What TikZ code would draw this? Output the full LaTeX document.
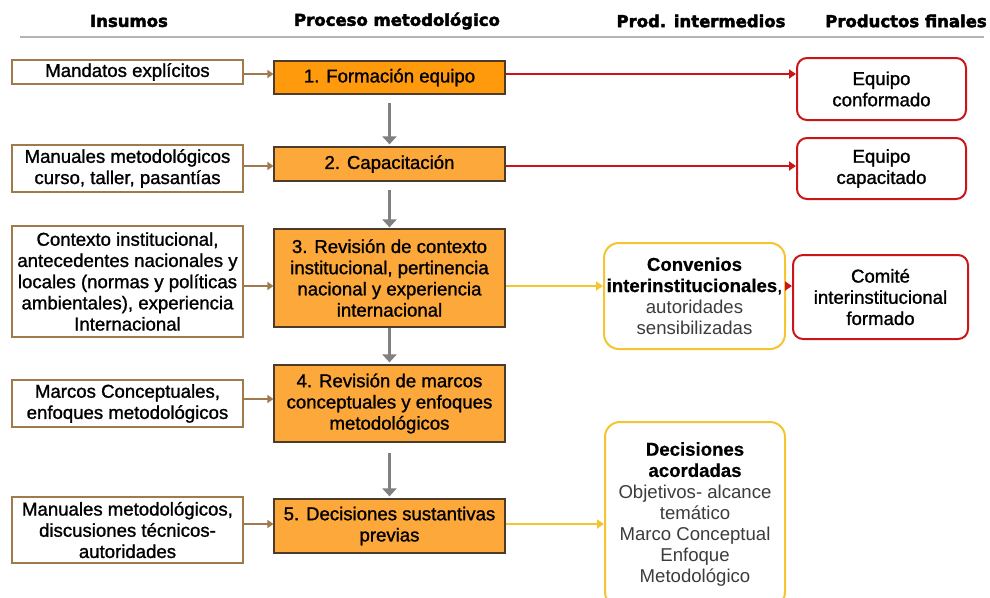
\documentclass[tikz,border=0pt]{standalone}
\usepackage{fontspec}
\setmainfont{Liberation Sans}[FakeBold=1.2, BoldFont={Liberation Sans Bold}, BoldFeatures={FakeBold=0.6}]
\newfontfamily\lightfont{Liberation Sans}
\newfontfamily\hdrfont{DejaVu Sans Bold}[FakeBold=2.6]
\usetikzlibrary{arrows.meta}
\definecolor{brn}{HTML}{9E7A4C}
\definecolor{obord}{HTML}{4D3B2A}
\definecolor{or1}{HTML}{FF9A0D}
\definecolor{or2}{HTML}{FDA83A}
\definecolor{redc}{HTML}{CC1518}
\definecolor{yel}{HTML}{F5C531}
\definecolor{gry}{HTML}{808080}
\definecolor{hline}{HTML}{B4B4B4}
\definecolor{lt}{HTML}{3C3C3C}
\newcommand{\lighttxt}[1]{{\lightfont\color{lt}#1}}
\tikzset{
  txt/.style={font=\fontsize{18.6}{21.2}\selectfont, align=center, inner sep=0pt},
  hdr/.style={font=\hdrfont\fontsize{16.5}{19}\selectfont, inner sep=0pt},
  lbox/.style={txt, draw=brn, line width=2pt, fill=white, minimum width=231pt},
  obox/.style={txt, draw=obord, line width=1.2pt, fill=or2, minimum width=231pt},
  rbox/.style={txt, draw=redc, line width=2pt, rounded corners=10pt, fill=white},
  ybox/.style={txt, draw=yel, line width=2pt, rounded corners=15pt, fill=white},
  barrow/.style={draw=brn, line width=2pt, -{Triangle[width=8pt,length=6pt]}},
  rarrow/.style={draw=redc, line width=2pt, -{Triangle[width=9pt,length=7pt]}},
  yarrow/.style={draw=yel, line width=2pt, -{Triangle[width=9pt,length=7pt]}},
  garrow/.style={draw=gry, line width=3.5pt, -{Triangle[width=14pt,length=8pt]}},
}
\begin{document}
\begin{tikzpicture}[x=1pt,y=-1pt]
\useasboundingbox (0,0) rectangle (990,597);
% headers
\node[hdr] (h1) at (129,21) {Insumos};
\node[hdr] (h2) at (397,21) {Proceso metodológico};
\node[hdr] (h3) at (701,21) {Prod. intermedios};
\node[hdr] (h4) at (906,21) {Productos finales};
\coordinate (hl1) at (20,37);
\coordinate (hl2) at (984,37);
\draw[hline, line width=1.5pt] (hl1) -- (hl2);
% row y-levels for connectors
\coordinate (a1) at (0,74);
\coordinate (a2) at (0,166);
\coordinate (a3) at (0,286);
\coordinate (a4) at (0,399);
\coordinate (a5) at (0,524);
% left boxes
\node[lbox, minimum height=24pt] (l1) at (127.5,72) {Mandatos explícitos};
\node[lbox, minimum height=47pt] (l2) at (127.5,168.5) {Manuales metodológicos\\curso, taller, pasantías};
\node[lbox, minimum height=111pt] (l3) at (127.5,281.5) {Contexto institucional,\\antecedentes nacionales y\\locales (normas y políticas\\ambientales), experiencia\\Internacional};
\node[lbox, minimum height=47pt] (l4) at (127.5,403.5) {Marcos Conceptuales,\\enfoques metodológicos};
\node[lbox, minimum height=66pt] (l5) at (127.5,530) {Manuales metodológicos,\\discusiones técnicos-\\autoridades};
% orange process boxes
\node[obox, fill=or1, minimum height=33pt] (o1) at (389.5,77.5) {1. Formación equipo};
\node[obox, minimum height=34pt] (o2) at (389.5,164) {2. Capacitación};
\node[obox, minimum height=98pt] (o3) at (389.5,278) {3. Revisión de contexto\\institucional, pertinencia\\nacional y experiencia\\internacional};
\node[obox, minimum height=77pt] (o4) at (389.5,403.5) {4. Revisión de marcos\\conceptuales y enfoques\\metodológicos};
\node[obox, minimum height=54pt] (o5) at (389.5,526) {5. Decisiones sustantivas\\previas};
% intermediate products
\node[ybox, minimum width=181pt, minimum height=106pt] (y3) at (694.5,296) {\textbf{Convenios}\\\textbf{interinstitucionales},\\\lighttxt{autoridades}\\\lighttxt{sensibilizadas}};
\node[ybox, minimum width=180pt, minimum height=185pt] (y5) at (695,514.5) {\textbf{Decisiones}\\\textbf{acordadas}\\\lighttxt{Objetivos- alcance}\\\lighttxt{temático}\\\lighttxt{Marco Conceptual}\\\lighttxt{Enfoque}\\\lighttxt{Metodológico}};
% final products
\node[rbox, minimum width=169pt, minimum height=62pt] (r1) at (881.5,89) {Equipo\\conformado};
\node[rbox, minimum width=169pt, minimum height=61pt] (r2) at (881.5,168.5) {Equipo\\capacitado};
\node[rbox, minimum width=175pt, minimum height=84pt] (r3) at (880.5,297) {Comité\\interinstitucional\\formado};
% brown input arrows
\draw[barrow] (l1.east |- a1) -- (o1.west |- a1);
\draw[barrow] (l2.east |- a2) -- (o2.west |- a2);
\draw[barrow] (l3.east |- a3) -- (o3.west |- a3);
\draw[barrow] (l4.east |- a4) -- (o4.west |- a4);
\draw[barrow] (l5.east |- a5) -- (o5.west |- a5);
% gray process arrows
\draw[garrow, shorten <=8pt, shorten >=2pt] (o1.south) -- (o2.north);
\draw[garrow, shorten <=8pt, shorten >=1pt] (o2.south) -- (o3.north);
\draw[garrow, shorten >=2pt] (o3.south) -- (o4.north);
\draw[garrow, shorten <=10pt, shorten >=2pt] (o4.south) -- (o5.north);
% product arrows
\draw[rarrow] (o1.east |- a1) -- (r1.west |- a1);
\draw[rarrow] (o2.east |- a2) -- (r2.west |- a2);
\draw[yarrow] (o3.east |- a3) -- (y3.west |- a3);
\draw[rarrow] (y3.east |- a3) -- (r3.west |- a3);
\draw[yarrow] (o5.east |- a5) -- (y5.west |- a5);
\end{tikzpicture}
\end{document}
